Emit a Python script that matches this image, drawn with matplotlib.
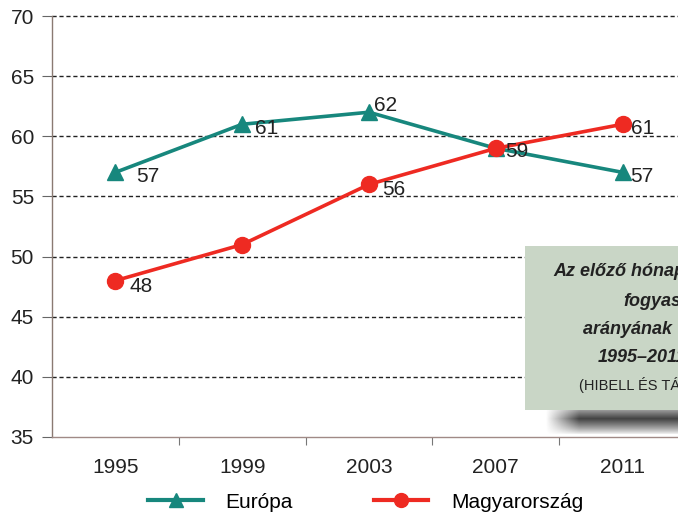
import numpy as np
import matplotlib.pyplot as plt
from matplotlib.patches import Rectangle
from matplotlib.lines import Line2D

years = ['1995', '1999', '2003', '2007', '2011']
europa = [57, 61, 62, 59, 57]
magyar = [48, 51, 56, 59, 61]
europa_labels = ['57', '61', '62', '', '57']
magyar_labels = ['48', '', '56', '59', '61']

teal = '#17877d'
red = '#ee2a22'
W, H = 678, 513
FS = 15

plt.rcParams['font.family'] = ['Liberation Sans', 'DejaVu Sans']

fig = plt.figure(figsize=(W / 100, H / 100), dpi=100)


def fx(x):
    return x / W


def fy(y):
    return 1 - y / H


ax = fig.add_axes([fx(52), fy(437), fx(686 - 52), (437 - 16) / H])
x = list(range(len(years)))

ax.set_xlim(-0.5, len(years) - 0.5)
ax.set_ylim(35, 70)
ax.set_yticks(range(35, 71, 5))
for v in range(40, 71, 5):
    ax.axhline(v, color='#222222', lw=1.0, ls=(0, (3, 2)), zorder=1, clip_on=False)

ax.plot(x, europa, color=teal, lw=2.6, marker='^', ms=12, zorder=3)
ax.plot(x, magyar, color=red, lw=2.6, marker='o', ms=11.5, zorder=4)

e_off = [(21, -4), (13, -4), (5, 7), (0, 0), (8, -4)]
m_off = [(14, -6), (0, 0), (13, -5), (9, -3), (8, -4)]
for i in x:
    if europa_labels[i]:
        ax.annotate(europa_labels[i], (i, europa[i]), xytext=e_off[i],
                    textcoords='offset pixels', ha='left', va='center',
                    fontsize=FS, color='#222222', zorder=5)
    if magyar_labels[i]:
        ax.annotate(magyar_labels[i], (i, magyar[i]), xytext=m_off[i],
                    textcoords='offset pixels', ha='left', va='center',
                    fontsize=FS, color='#222222', zorder=5)

# ticks at category boundaries, labels at centres
ax.set_xticks([i + 0.5 for i in x[:-1]])
ax.set_xticklabels([])
ax.set_xticks(x, minor=True)
ax.set_xticklabels(years, minor=True, fontsize=FS, color='#222222')
ax.tick_params(axis='x', which='major', length=6, color='#777777', direction='out')
ax.tick_params(axis='x', which='minor', length=0, pad=15)
ax.tick_params(axis='y', length=7, color='#666666', labelsize=FS,
               labelcolor='#222222', pad=6)

for s in ['top', 'right']:
    ax.spines[s].set_visible(False)
ax.spines['left'].set_color('#8a7a72')
ax.spines['bottom'].set_color('#a08a86')
ax.spines['left'].set_linewidth(1.0)
ax.spines['bottom'].set_linewidth(1.0)

# legend
handles = [Line2D([], [], color=teal, lw=3, marker='^', ms=10),
           Line2D([], [], color=red, lw=3, marker='o', ms=10)]
fig.legend(handles, ['Európa', 'Magyarország'], loc='center',
           bbox_to_anchor=(fx(366), fy(502)), ncol=2, frameon=False,
           fontsize=FS, handlelength=2.6, handletextpad=1.1,
           columnspacing=3.9, borderpad=0)

# soft shadow under the note box (image with a fading alpha)
sx0, sx1, sy0, sy1 = 538, 690, 400, 436
sh = fig.add_axes([fx(sx0), fy(sy1), fx(sx1 - sx0), (sy1 - sy0) / H], zorder=6)
sh.axis('off')
xx = np.linspace(0, 1, 150)
yy = np.linspace(0, 1, 36)
ax_fade = np.clip((xx - 0.05) / 0.22, 0, 1)
ay_fade = np.clip(1 - np.abs(yy - 0.52) / 0.45, 0, 1) ** 0.8
alpha = np.outer(ay_fade, ax_fade) * 0.85
img = np.zeros((36, 150, 4))
img[..., :3] = 0.13
img[..., 3] = alpha
sh.imshow(img, aspect='auto', extent=(0, 1, 0, 1), interpolation='bilinear')
sh.set_xlim(0, 1)
sh.set_ylim(0, 1)

# note box
fig.patches.append(Rectangle((fx(525), fy(410)), fx(200), (410 - 246) / H,
                             transform=fig.transFigure, facecolor='#c9d6c6',
                             edgecolor='none', zorder=7))
notes = [('Az előző hónapban', 553, 272, 13, True),
         ('fogyasztók', 623, 302, 13, True),
         ('arányának változása', 583, 330, 13, True),
         ('1995–2011', 598, 358, 13, True),
         ('(HIBELL ÉS TÁRSAI 2012)', 579, 385, 10.5, False)]
for txt, px, py, fs, bold in notes:
    fig.text(fx(px), fy(py), txt, ha='left', va='center', fontsize=fs,
             fontweight='bold' if bold else 'normal',
             fontstyle='italic' if bold else 'normal',
             color='#222222', zorder=8)

fig.savefig('out.png', dpi=100)
